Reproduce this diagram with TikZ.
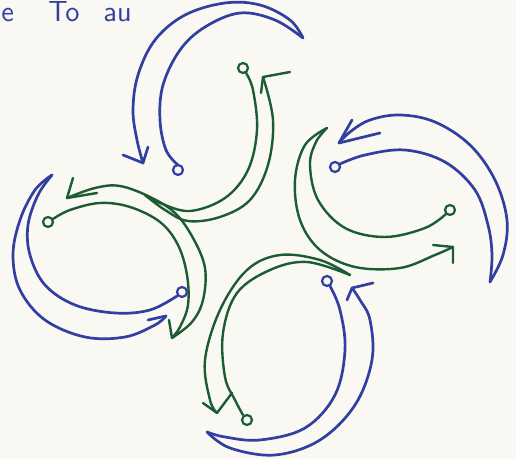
\documentclass[tikz,border=0pt]{standalone}
\definecolor{inkblue}{RGB}{50,62,160}
\definecolor{inkgreen}{RGB}{28,92,50}
\definecolor{paper}{RGB}{250,248,243}
\begin{document}
\begin{tikzpicture}[x=0.5pt,y=-0.5pt,
  blueline/.style={draw=inkblue,line width=1.35pt,line cap=round,line join=round},
  greenline/.style={draw=inkgreen,line width=1.2pt,line cap=round,line join=round},
  ring/.style={line width=1.1pt},
  handtext/.style={text=inkblue,font=\sffamily\fontsize{14.5}{16}\selectfont,anchor=base west,inner sep=0pt}]
\useasboundingbox (0,0) rectangle (516,459);
\fill[paper] (0,0) rectangle (516,459);
\clip (0,0) rectangle (516,459);

% text at top
\node[handtext] (w1) at (1,22) {e};
\node[handtext] (w2) at (48,22) {To};
\node[handtext] (w3) at (103,22) {au};

% ===== top unit =====
\draw[blueline] plot[smooth,tension=0.6] coordinates {(178,165) (166,150) (160,120) (163,85) (180,50) (205,27) (240,13) (275,20) (303,38)};
\draw[blueline] plot[smooth,tension=0.6] coordinates {(303,38) (290,20) (260,5) (225,3) (185,15) (155,40) (138,75) (133,110) (137,140) (143,163)};
\draw[blueline] (123,155) -- (143,163) -- (148,147);
\draw[blueline,ring] (178,170) circle[radius=2.5pt];

\draw[greenline] plot[smooth,tension=0.6] coordinates {(246,73) (253,90) (257,130) (248,170) (225,198) (190,211) (160,203) (145,195)};
\draw[greenline] plot[smooth,tension=0.6] coordinates {(145,195) (165,210) (188,221) (220,217) (250,200) (268,165) (273,120) (263,77)};
\draw[greenline] (290,72) -- (263,77) -- (261,93);
\draw[greenline,ring] (243,68) circle[radius=2.5pt];

% ===== right unit =====
\draw[blueline] plot[smooth,tension=0.6] coordinates {(340,164) (365,155) (405,150) (445,162) (475,190) (488,225) (492,255) (490,282)};
\draw[blueline] plot[smooth,tension=0.6] coordinates {(490,282) (503,255) (507,220) (495,180) (470,145) (435,122) (400,115) (370,120) (350,132) (339,143)};
\draw[blueline] (352,120) -- (339,143) -- (380,133);
\draw[blueline,ring] (335,167) circle[radius=2.5pt];

\draw[greenline] plot[smooth,tension=0.6] coordinates {(446,214) (425,228) (385,237) (345,228) (318,200) (310,165) (316,142) (327,128)};
\draw[greenline] plot[smooth,tension=0.6] coordinates {(327,128) (305,145) (295,180) (300,220) (320,250) (355,267) (400,268) (435,255) (453,247)};
\draw[greenline] (433,245) -- (453,247) -- (453,263);
\draw[greenline,ring] (450,210) circle[radius=2.5pt];

% ===== bottom unit =====
\draw[blueline] plot[smooth,tension=0.6] coordinates {(330,286) (340,310) (345,350) (335,395) (305,428) (260,440) (225,437) (207,432)};
\draw[blueline] plot[smooth,tension=0.6] coordinates {(207,432) (230,448) (275,455) (320,440) (355,405) (372,360) (370,320) (360,300) (352,288)};
\draw[blueline] (373,283) -- (352,288) -- (347,300);
\draw[blueline,ring] (327,281) circle[radius=2.5pt];

\draw[greenline] plot[smooth,tension=0.6] coordinates {(350,275) (320,260) (280,255) (247,270) (220,310) (205,360) (210,400) (217,413)};
\draw[greenline] plot[smooth,tension=0.6] coordinates {(243,415) (235,400) (225,377) (223,333) (237,293) (270,270) (307,262) (350,275)};
\draw[greenline] (203,403) -- (217,413) -- (232,393);
\draw[greenline,ring] (247,420) circle[radius=2.5pt];

% ===== left unit =====
\draw[blueline] plot[smooth,tension=0.6] coordinates {(52,175) (35,190) (20,220) (13,255) (20,290) (45,320) (85,337) (125,337) (155,325) (166,316)};
\draw[blueline] plot[smooth,tension=0.6] coordinates {(52,175) (38,195) (28,225) (30,255) (45,285) (75,305) (115,313) (150,310) (177,296)};
\draw[blueline] (148,320) -- (166,316);
\draw[blueline,ring] (182,292) circle[radius=2.5pt];

\draw[greenline] plot[smooth,tension=0.6] coordinates {(53,219) (70,210) (100,203) (130,207) (160,222) (178,245) (187,275) (188,305) (180,327) (172,338)};
\draw[greenline] plot[smooth,tension=0.6] coordinates {(172,338) (192,322) (203,300) (205,268) (193,238) (175,213) (150,197) (120,186) (95,188) (67,198)};
\draw[greenline] (73,178) -- (67,198) -- (97,193);
\draw[greenline] (172,338) -- (169,320);
\draw[greenline,ring] (48,222) circle[radius=2.5pt];
\end{tikzpicture}
\end{document}
